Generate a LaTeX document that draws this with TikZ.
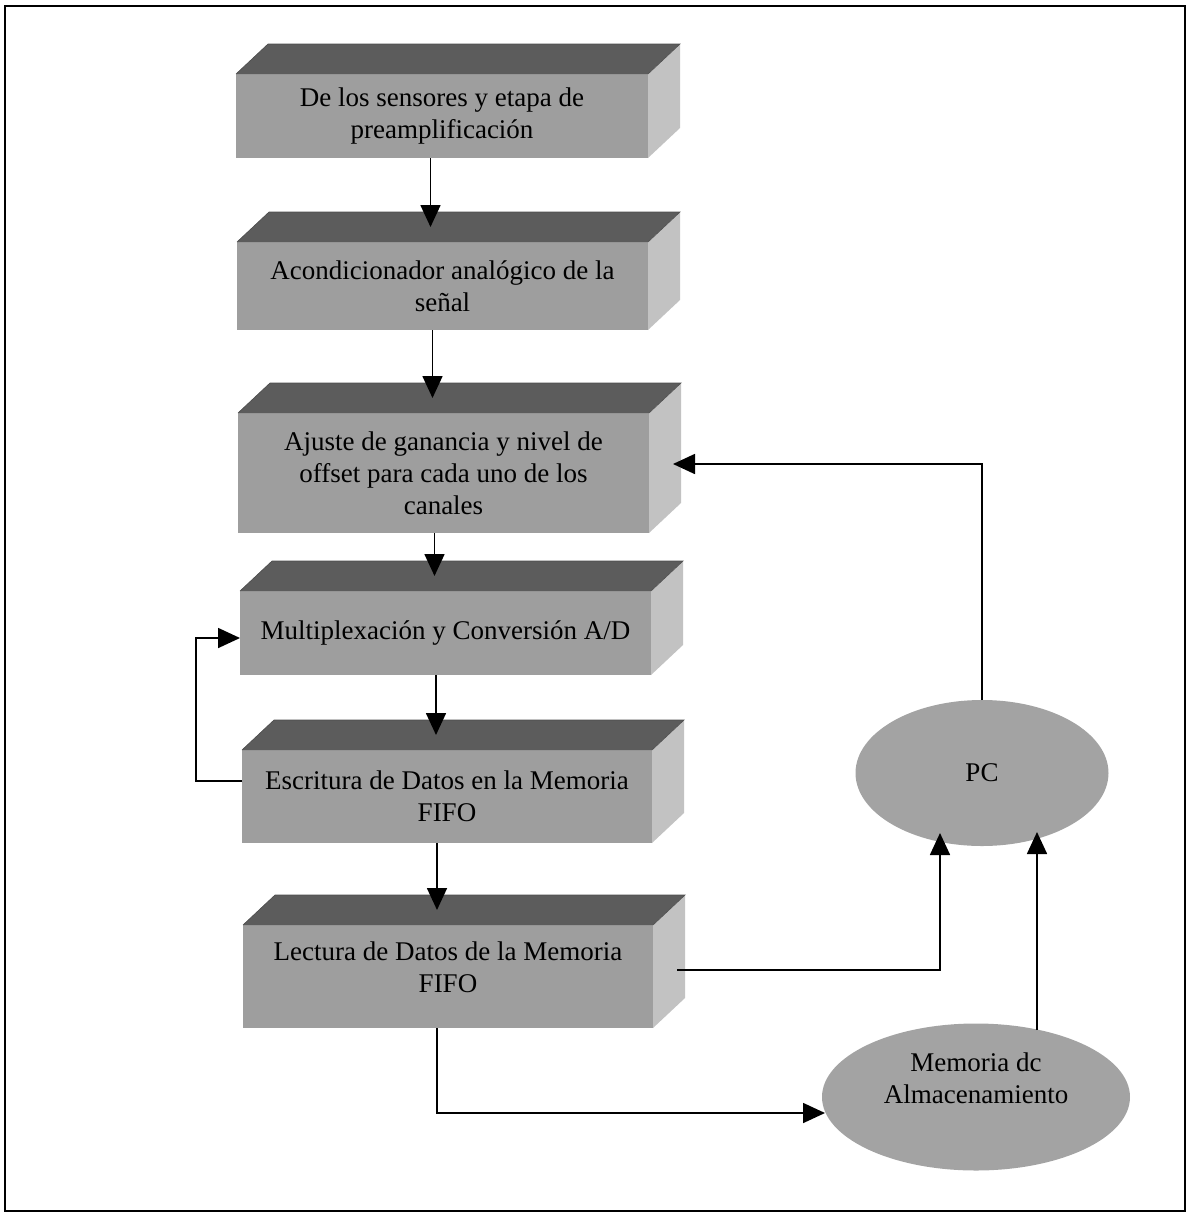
\documentclass[tikz,border=0pt]{standalone}
\usepackage{fontspec}
\setmainfont{Liberation Serif}
\usetikzlibrary{calc,shapes.geometric,arrows.meta}
\definecolor{topc}{gray}{0.36}
\definecolor{frontc}{gray}{0.62}
\definecolor{sidec}{gray}{0.76}
\definecolor{ellc}{gray}{0.64}
\tikzset{
  frontbox/.style={rectangle, fill=frontc, inner sep=0pt, outer sep=0pt, align=center,
    font=\fontsize{27}{32}\selectfont},
  topface/.style={fill=topc},
  sideface/.style={fill=sidec},
  ellnode/.style={ellipse, fill=ellc, inner sep=0pt, outer sep=0pt, align=center,
    font=\fontsize{27}{32}\selectfont},
  arr/.style={line width=1.7pt, -{Triangle[length=22pt,width=20pt]}},
}
\newcommand{\boxfaces}[1]{%
  \fill[topface] (#1.north west) -- ++(32,30) -- ($(#1.north east)+(32,30)$) -- (#1.north east) -- cycle;
  \fill[sideface] (#1.north east) -- ++(32,30) -- ($(#1.south east)+(32,30)$) -- (#1.south east) -- cycle;
  \draw[line width=0.6pt, black!70] (#1.north west) -- ++(32,30) -- ($(#1.north east)+(32,30)$) -- (#1.north east);
}
\begin{document}
\begin{tikzpicture}[x=1pt,y=1pt]
\useasboundingbox (0,0) rectangle (1191,-1219);
\draw[line width=1.5pt] (5,-6) rectangle (1185,-1211);

% boxes
\node[frontbox, minimum width=412pt, minimum height=84pt] (b1) at (442,-116)
  {De los sensores y etapa de\\preamplificación};
\node[frontbox, minimum width=411pt, minimum height=88pt] (b2) at (442.5,-286)
  {Acondicionador analógico de la\\señal};
\node[frontbox, minimum width=411pt, minimum height=120pt] (b3) at (443.5,-473)
  {Ajuste de ganancia y nivel de\\offset para cada uno de los\\canales};
\node[frontbox, minimum width=411pt, minimum height=84pt] (b4) at (445.5,-633)
  {Multiplexación y Conversión A/D};
\node[frontbox, minimum width=410pt, minimum height=93pt] (b5) at (447,-796.5)
  {Escritura de Datos en la Memoria\\FIFO};
\node[frontbox, minimum width=410pt, minimum height=103pt] (b6) at (448,-976.5)
  {Lectura de Datos de la Memoria\\FIFO\\[-14pt]};
\boxfaces{b1}
\boxfaces{b2}
\boxfaces{b3}
\boxfaces{b4}
\boxfaces{b5}
\boxfaces{b6}

% ellipses
\node[ellnode, minimum width=253pt, minimum height=146pt] (pc) at (982,-773) {PC};
\node[ellnode, minimum width=308pt, minimum height=147pt] (mem) at (976,-1097)
  {Memoria dc\\Almacenamiento\\[6pt]};

% vertical chain arrows
\coordinate (t2) at ($(b2.north)+(-12,15)$);
\coordinate (t3) at ($(b3.north)+(-11,15)$);
\coordinate (t4) at ($(b4.north)+(-11,15)$);
\coordinate (t5) at ($(b5.north)+(-11,15)$);
\coordinate (t6) at ($(b6.north)+(-11,15)$);
\draw[arr] (b1.south -| t2) -- (t2);
\draw[arr] (b2.south -| t3) -- (t3);
\draw[arr] (b3.south -| t4) -- (t4);
\draw[arr] (b4.south -| t5) -- (t5);
\draw[arr] (b5.south -| t6) -- (t6);

% left feedback loop
\coordinate (l5) at ($(b5.west)+(0,15.5)$);
\coordinate (l4) at ($(b4.west)+(0,-5)$);
\draw[arr] (l5) -- ++(-46,0) |- (l4);

% right loop from PC to b3
\coordinate (r3) at ($(b3.east)+(24,9)$);
\draw[arr] (pc.north) |- (r3);

% b6 to PC
\coordinate (r6) at ($(b6.east)+(24,6.5)$);
\coordinate (pcin1) at ($(pc.center)+(-42,-60)$);
\draw[arr] (r6) -| (pcin1);

% memoria to PC
\coordinate (pcin2) at ($(pc.center)+(55,-59)$);
\coordinate (m1) at ($(mem.center)+(61,67)$);
\draw[arr] (m1) -- (m1 |- pcin2);

% b6 to memoria
\coordinate (min) at ($(mem.center)+(-151,-16)$);
\draw[arr] ($(b6.south)+(-11,0)$) |- (min);
\end{tikzpicture}
\end{document}
